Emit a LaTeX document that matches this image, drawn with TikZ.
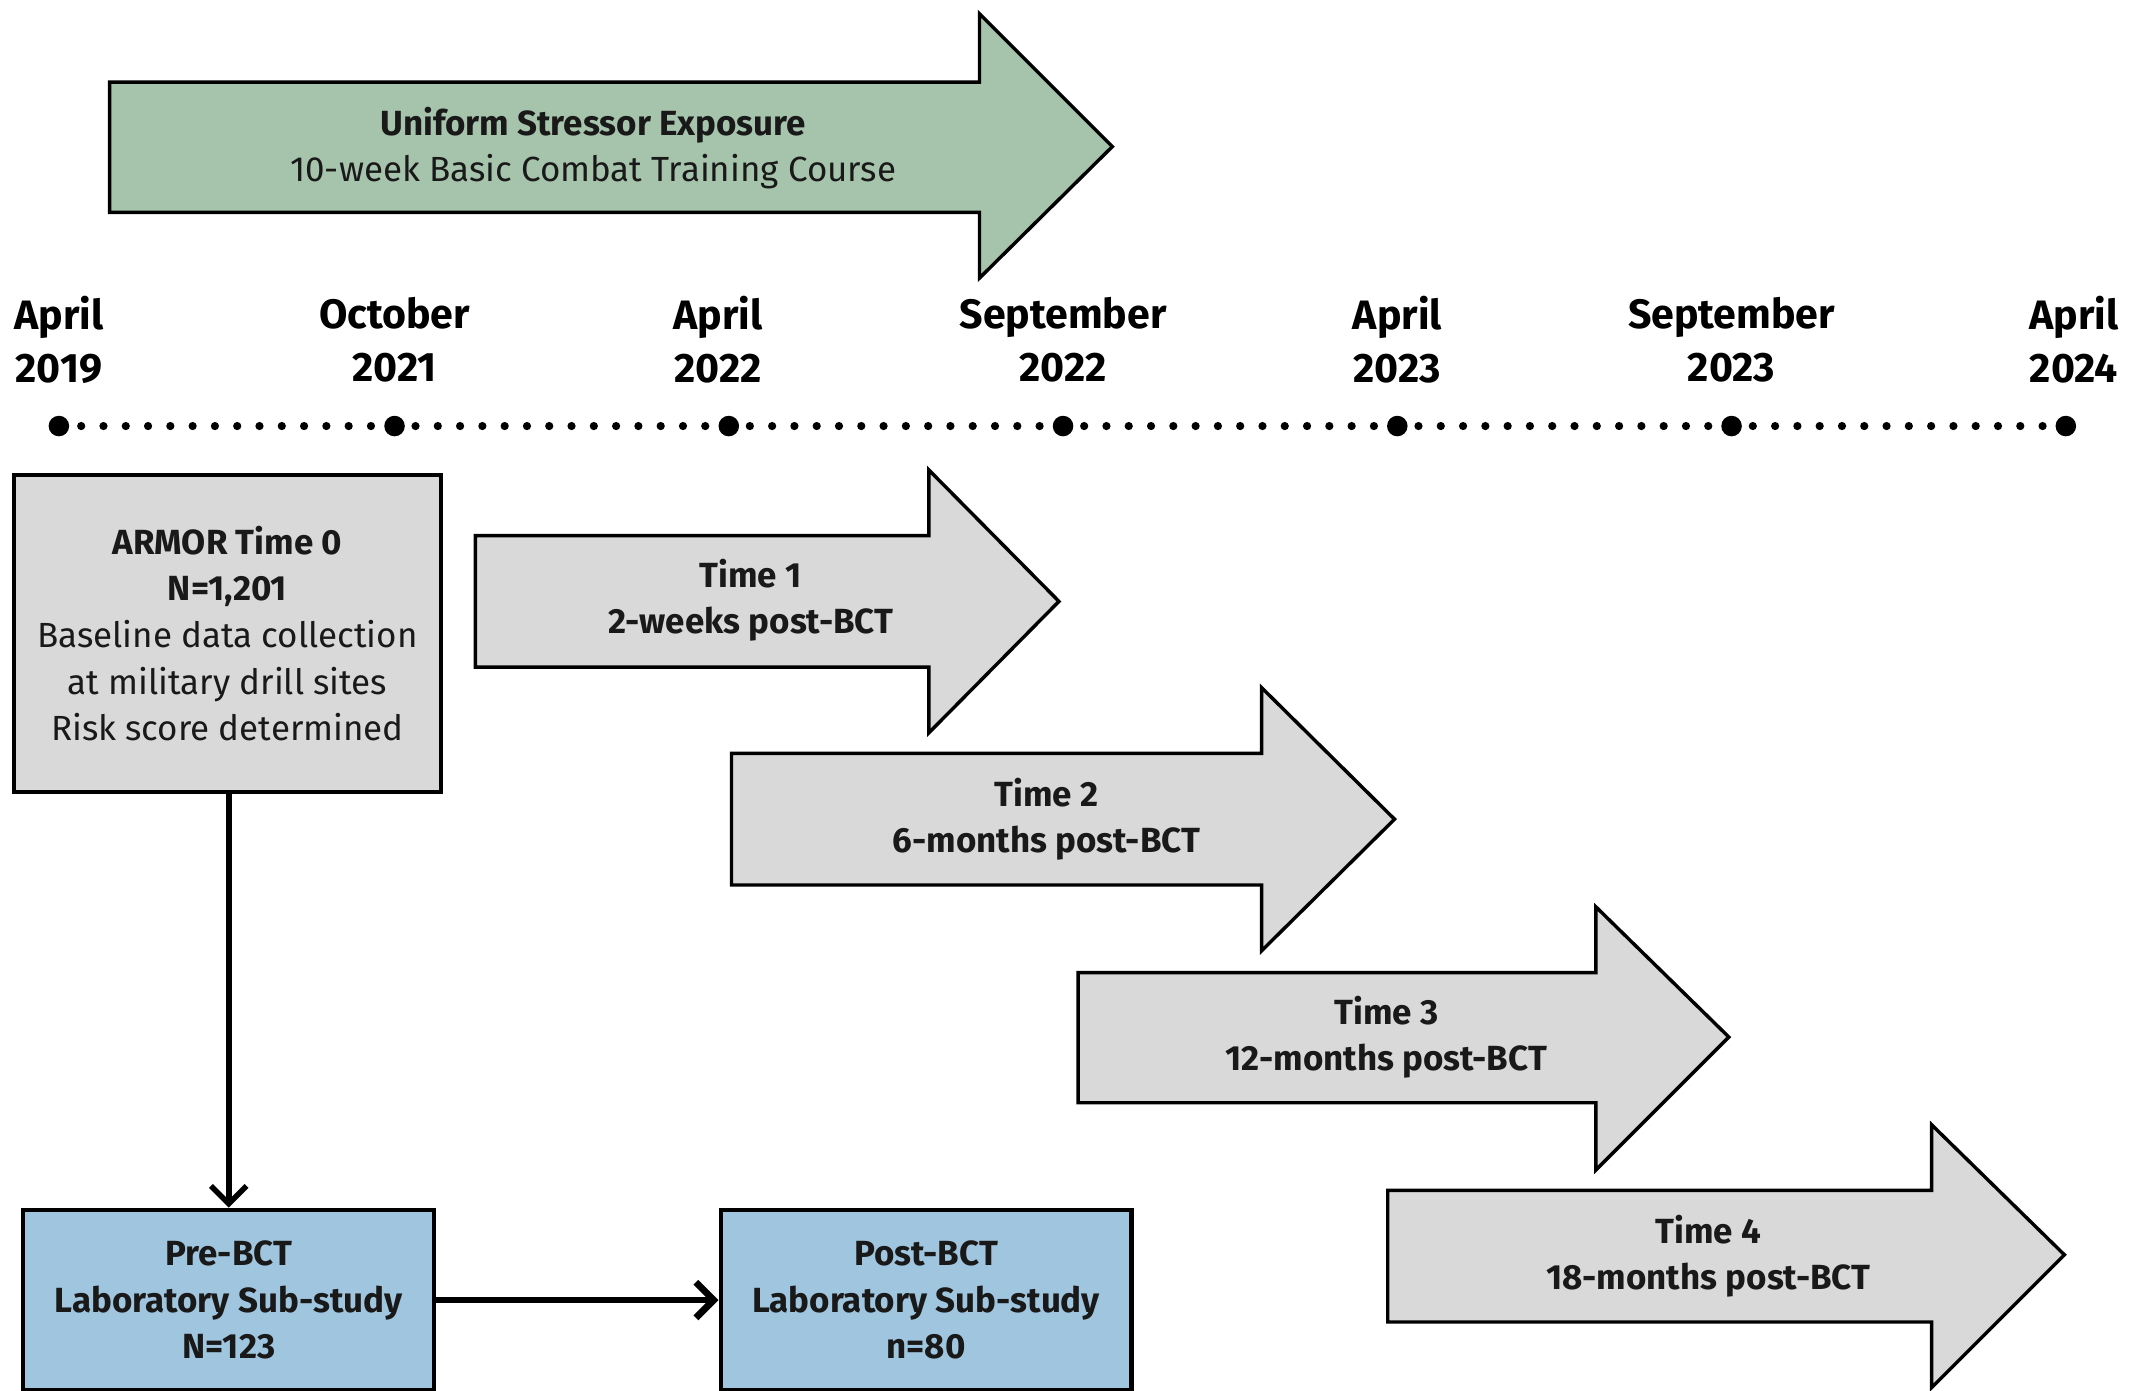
\documentclass[tikz,border=0pt]{standalone}
\usepackage{fontspec}
\setmainfont{Fira Sans}
\usetikzlibrary{arrows.meta}
\definecolor{greenfill}{RGB}{166,196,172}
\definecolor{grayfill}{RGB}{217,217,217}
\definecolor{bluefill}{RGB}{160,198,223}
\definecolor{txt}{RGB}{25,25,25}
\tikzset{
  blockarrow/.style={draw=black, line width=2.5pt, line join=miter},
  boxtext/.style={align=center, text=txt, font=\fontsize{25.5}{34}\selectfont, inner sep=0pt},
  boldtext/.style={boxtext, font=\bfseries\fontsize{25.5}{34}\selectfont},
  datelabel/.style={align=center, text=black, font=\bfseries\fontsize{30}{39}\selectfont, inner sep=0pt},
  studybox/.style={draw=black, line width=3pt, align=center, text=txt, font=\bfseries\fontsize{25.5}{34}\selectfont, inner sep=0pt},
  conn/.style={draw=black, -{Straight Barb[length=13pt,width=26pt]}},
  dotline/.style={line width=6pt, line cap=round, dash pattern=on 0pt off 16.27pt},
}
\begin{document}
\begin{tikzpicture}[x=1pt,y=-1pt]
\useasboundingbox (0,0) rectangle (1568,1015);
\clip (0,0) rectangle (1568,1015);

% Uniform stressor arrow
\path[blockarrow, fill=greenfill] (80,60) -- (715,60) -- (715,10) -- (812,107) -- (715,203) -- (715,155) -- (80,155) -- cycle;
\node[boxtext] (stress) at (433,108) {\textbf{Uniform Stressor Exposure}\\10-week Basic Combat Training Course};

% timeline
\foreach \i/\x in {0/43,1/288,2/532,3/776,4/1020,5/1264,6/1508}{
  \coordinate (d\i) at (\x,311);
}
\draw[dotline] (d0) -- (d6);
\foreach \i in {0,...,6}{ \fill (d\i) circle (7.5); }

\node[datelabel] (l0) at (43,248) {April\\2019};
\node[datelabel] (l1) at (288,248) {October\\2021};
\node[datelabel] (l2) at (524,248) {April\\2022};
\node[datelabel] (l3) at (776,248) {September\\2022};
\node[datelabel] (l4) at (1020,248) {April\\2023};
\node[datelabel] (l5) at (1264,248) {September\\2023};
\node[datelabel] (l6) at (1514,248) {April\\2024};

% ARMOR box
\node[studybox, fill=grayfill, minimum width=312pt, minimum height=231pt] (armor) at (166,462.5)
  {ARMOR Time 0\\N=1,201\\\mdseries Baseline data collection\\\mdseries at military drill sites\\\mdseries Risk score determined};

% time arrows
\path[blockarrow, fill=grayfill] (347,391) -- (678,391) -- (678,343) -- (773,439) -- (678,535) -- (678,487) -- (347,487) -- cycle;
\node[boldtext] (t1) at (548,438) {Time 1\\2-weeks post-BCT};

\path[blockarrow, fill=grayfill] (534,550) -- (921,550) -- (921,502) -- (1018,598) -- (921,694) -- (921,646) -- (534,646) -- cycle;
\node[boldtext] (t2) at (764,598) {Time 2\\6-months post-BCT};

\path[blockarrow, fill=grayfill] (787,710) -- (1165,710) -- (1165,662) -- (1262,757) -- (1165,854) -- (1165,805) -- (787,805) -- cycle;
\node[boldtext] (t3) at (1012,757) {Time 3\\12-months post-BCT};

\path[blockarrow, fill=grayfill] (1013,869) -- (1410,869) -- (1410,821) -- (1507,916) -- (1410,1013) -- (1410,965) -- (1013,965) -- cycle;
\node[boldtext] (t4) at (1247,917) {Time 4\\18-months post-BCT};

% lab boxes
\node[studybox, fill=bluefill, minimum width=300pt, minimum height=132pt] (pre) at (167,949)
  {Pre-BCT\\Laboratory Sub-study\\N=123};
\node[studybox, fill=bluefill, minimum width=300pt, minimum height=132pt] (post) at (676,949)
  {Post-BCT\\Laboratory Sub-study\\n=80};

% connectors
\draw[conn, line width=4pt] (armor.south -| pre.north) -- (pre.north);
\draw[conn, line width=5pt] (pre.east) -- (post.west);
\end{tikzpicture}
\end{document}
